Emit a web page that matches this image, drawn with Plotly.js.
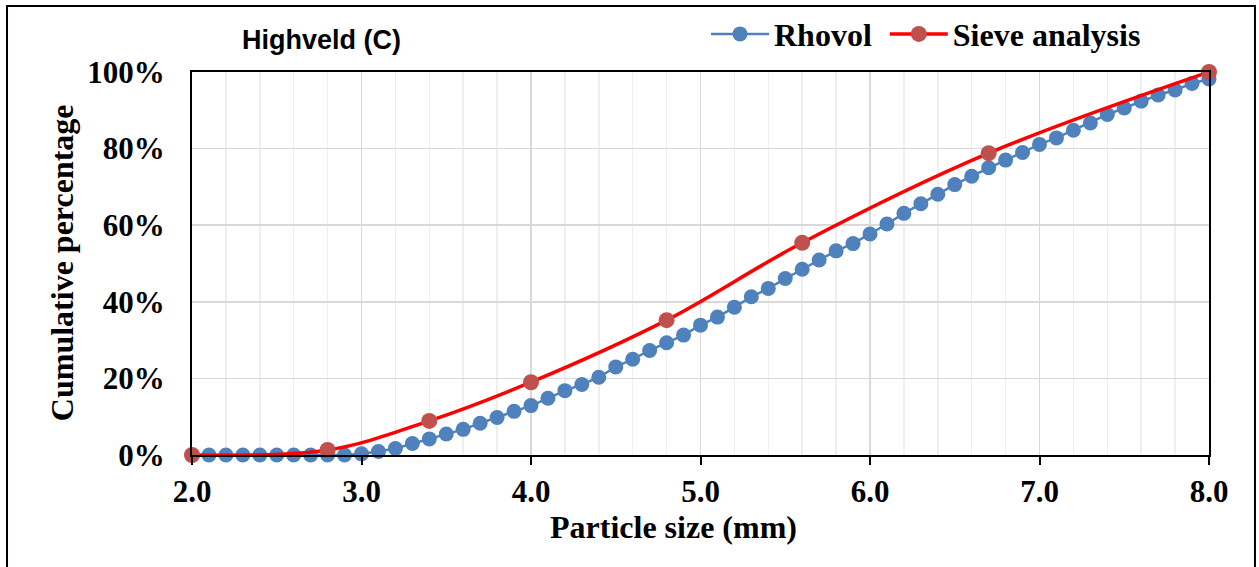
<!DOCTYPE html>
<html>
<head>
<meta charset="utf-8">
<script src="https://cdn.plot.ly/plotly-3.0.1.min.js"></script>
<style>
html,body{margin:0;padding:0;background:#fff;}
#chart{width:1259px;height:567px;}
</style>
</head>
<body>
<div id="chart"></div>
<script>
// Particle sizes (mm) for the Rhovol series
const rhovolSize = [2.0,2.1,2.2,2.3,2.4,2.5,2.6,2.7,2.8,2.9,
  3.0,3.1,3.2,3.3,3.4,3.5,3.6,3.7,3.8,3.9,
  4.0,4.1,4.2,4.3,4.4,4.5,4.6,4.7,4.8,4.9,
  5.0,5.1,5.2,5.3,5.4,5.5,5.6,5.7,5.8,5.9,
  6.0,6.1,6.2,6.3,6.4,6.5,6.6,6.7,6.8,6.9,
  7.0,7.1,7.2,7.3,7.4,7.5,7.6,7.7,7.8,7.9,8.0];
// Cumulative percentage (%) for Rhovol
const rhovolPct = [0,0,0,0,0,0,0,0,0,0,
  0.3,0.9,1.7,3.0,4.2,5.5,6.7,8.3,9.8,11.4,
  12.9,14.8,16.8,18.4,20.3,23.0,25.0,27.3,29.3,31.3,
  33.9,36.0,38.6,41.3,43.5,46.1,48.5,50.9,53.3,55.2,
  57.7,60.3,63.1,65.6,68.1,70.6,72.8,75.0,77.0,79.0,
  81.1,82.8,84.8,86.7,88.9,90.6,92.4,94.0,95.3,97.0,98.2];
// Sieve analysis
const sieveSize = [2.0,2.8,3.4,4.0,4.8,5.6,6.7,8.0];
const sievePct = [0,1.3,8.9,19.0,35.2,55.4,78.8,100];

const seriesNames = ['Rhovol', 'Sieve analysis'];

const xTickVals = [2,3,4,5,6,7,8];
const xTickText = ['2.0','3.0','4.0','5.0','6.0','7.0','8.0'];
const yTickVals = [0,0.2,0.4,0.6,0.8,1.0];
const yTickText = ['0%','20%','40%','60%','80%','100%'];

const chartTitle = 'Highveld (C)';
const xTitle = 'Particle size (mm)';
const yTitle = 'Cumulative percentage';

const serif = 'Liberation Serif, Times New Roman, serif';

const traces = [
  {
    x: rhovolSize,
    y: rhovolPct.map(v => v/100),
    name: seriesNames[0] + '\u00A0',
    type: 'scatter',
    mode: 'lines+markers',
    line: {color: '#4F81BD', width: 2.5},
    marker: {color: '#4F81BD', size: 15},
    cliponaxis: false
  },
  {
    x: sieveSize,
    y: sievePct.map(v => v/100),
    name: seriesNames[1],
    type: 'scatter',
    mode: 'lines+markers',
    line: {color: '#FF0000', width: 3.5, shape: 'spline', smoothing: 1},
    marker: {color: '#C0504D', size: 16},
    cliponaxis: false
  }
];

const layout = {
  width: 1259, height: 567,
  margin: {l: 192, r: 50, t: 72, b: 112, autoexpand: false},
  paper_bgcolor: '#ffffff',
  plot_bgcolor: '#ffffff',
  showlegend: true,
  legend: {
    orientation: 'h',
    x: 0.5054, xanchor: 'left',
    y: 1.099, yanchor: 'middle',
    font: {family: serif, size: 32, color: '#000', weight: 'bold'},
    bgcolor: 'rgba(0,0,0,0)',
    itemwidth: 58
  },
  xaxis: {
    range: [2, 8],
    tickvals: xTickVals,
    ticktext: xTickText,
    tickfont: {family: serif, size: 31, color: '#000', weight: 'bold'},
    ticks: 'outside', ticklen: 8, tickwidth: 2, tickcolor: '#000',
    showline: true, linecolor: '#000', linewidth: 2, mirror: true,
    showgrid: true, gridcolor: '#D9D9D9', gridwidth: 1.5,
    minor: {dtick: 0.2, showgrid: true, gridcolor: '#EFEFEF', gridwidth: 1.5, ticks: ''},
    zeroline: false,
    automargin: false
  },
  yaxis: {
    range: [0, 1],
    tickvals: yTickVals,
    ticktext: yTickText,
    tickfont: {family: serif, size: 31, color: '#000', weight: 'bold'},
    ticks: '',
    ticklabelstandoff: 19,
    showline: true, linecolor: '#000', linewidth: 2, mirror: true,
    showgrid: true, gridcolor: '#D9D9D9', gridwidth: 1.5,
    zeroline: false,
    automargin: false
  },
  annotations: [
    {
      text: '<b>' + chartTitle + '</b>',
      xref: 'paper', yref: 'paper',
      x: 0.1278, y: 1.083, xanchor: 'center', yanchor: 'middle',
      showarrow: false,
      font: {family: 'Liberation Sans, Arial, sans-serif', size: 27, color: '#000'}
    },
    {
      text: '<b>' + xTitle + '</b>',
      xref: 'paper', yref: 'paper',
      x: 0.473, y: -0.188, xanchor: 'center', yanchor: 'middle',
      showarrow: false,
      font: {family: serif, size: 32, color: '#000'}
    },
    {
      text: '<b>' + yTitle + '</b>',
      xref: 'paper', yref: 'paper',
      x: -0.1278, y: 0.501, xanchor: 'center', yanchor: 'middle',
      textangle: -90,
      showarrow: false,
      font: {family: serif, size: 32, color: '#000'}
    }
  ],
  shapes: [
    {
      type: 'rect', xref: 'paper', yref: 'paper',
      x0: -0.1819, x1: 1.0452, y0: -0.32, y1: 1.1723,
      line: {color: '#000', width: 2}, fillcolor: 'rgba(0,0,0,0)', layer: 'below'
    }
  ],
  font: {family: serif, color: '#000'}
};

Plotly.newPlot('chart', traces, layout, {displayModeBar: false, staticPlot: true});
</script>
</body>
</html>
